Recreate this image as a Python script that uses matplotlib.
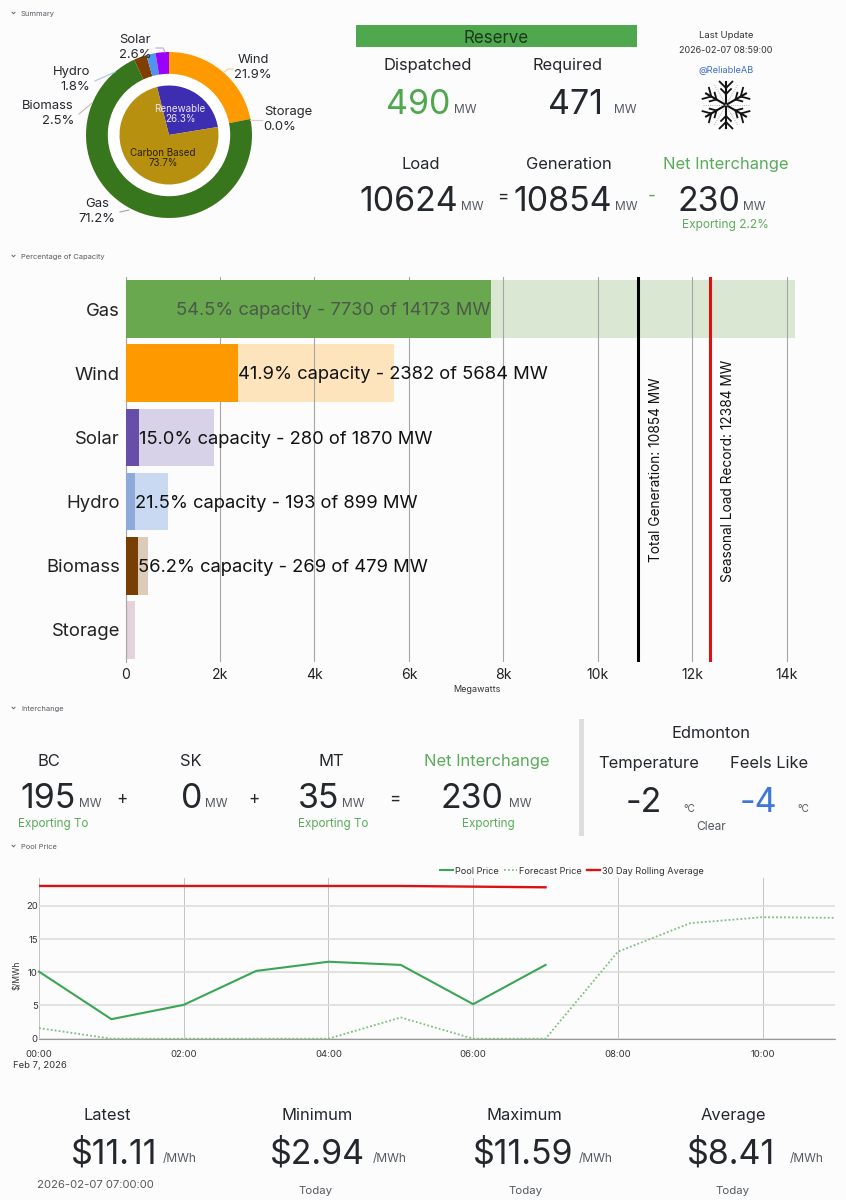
import matplotlib
matplotlib.use('Agg')
import matplotlib.pyplot as plt
import numpy as np

# Values
mix_names = ['Wind', 'Storage', 'Gas', 'Biomass', 'Hydro', 'Solar']
mix_pct = [21.9, 0.0, 71.2, 2.5, 1.8, 2.6]
mix_colors = ['#ff9900', '#e6b8c8', '#38761d', '#7f3f00', '#5094ee', '#9900ff']
group_names = ['Renewable', 'Carbon Based']
group_pct = [26.3, 73.7]
group_colors = ['#3d2db0', '#b8900f']

sources = ['Gas', 'Wind', 'Solar', 'Hydro', 'Biomass', 'Storage']
generation = [7730, 2382, 280, 193, 269, 0]
capacity = [14173, 5684, 1870, 899, 479, 200]
cap_pct = [54.5, 41.9, 15.0, 21.5, 56.2, None]
gen_colors = ['#6aa84f', '#ff9900', '#674ea7', '#8eaadb', '#783f04', '#d5a6bd']
cap_colors = ['#d9e7d3', '#fde4bc', '#d8d2e8', '#c9d9f2', '#dccbb9', '#e3d3dc']
total_generation = 10854
seasonal_record = 12384
mw_ticks = [0, 2000, 4000, 6000, 8000, 10000, 12000, 14000]
mw_tick_labels = ['0', '2k', '4k', '6k', '8k', '10k', '12k', '14k']

hours = [0, 1, 2, 3, 4, 5, 6, 7]
pool_price = [10.1, 2.94, 5.1, 10.2, 11.59, 11.11, 5.2, 11.11]
rolling_avg = [23.0, 23.0, 23.0, 23.0, 23.0, 23.0, 22.9, 22.8]
forecast_hours = [0, 1, 2, 3, 4, 5, 6, 7, 8, 9, 10, 11]
forecast_price = [1.6, 0, 0, 0, 0, 3.2, 0, 0, 13.1, 17.4, 18.3, 18.2]
hour_ticks = [0, 2, 4, 6, 8, 10]
hour_labels = ['00:00', '02:00', '04:00', '06:00', '08:00', '10:00']
price_ticks = [0, 5, 10, 15, 20]

W, H = 846, 1200
BG = '#fcfcfc'
DARK = '#24272c'
GREEN = '#5aab5a'
GRAY = '#555a60'

plt.rcParams['font.family'] = ['Inter', 'DejaVu Sans']
fig = plt.figure(figsize=(W / 100, H / 100), dpi=100, facecolor=BG)


def px_axes(left, top, right, bottom):
    return fig.add_axes([left / W, 1 - bottom / H, (right - left) / W, (bottom - top) / H])


def pt(size_px):
    return size_px * 0.72


# overlay in pixel coordinates for the stat panels
ov = fig.add_axes([0, 0, 1, 1], zorder=10)
ov.set_xlim(0, W)
ov.set_ylim(H, 0)
ov.axis('off')
ov.patch.set_alpha(0)


def put(x, y, s, size=16.5, color=DARK, ha='center', **kw):
    if 'rotation' in kw:
        x += 2
    else:
        y += 1.2 + 0.08 * size
    ov.text(x, y, s, fontsize=pt(size), color=color, ha=ha, va='center', **kw)


def stat(x0, x1, y, s, unit_x, color=DARK, unit='MW', size=34):
    put((x0 + x1) / 2, y, s, size=size, color=color)
    put(unit_x, y + 7, unit, size=12, color=GRAY)


# section headers
for y, name in [(13, 'Summary'), (256, 'Percentage of Capacity'), (708, 'Interchange'), (846, 'Pool Price')]:
    ov.plot([12, 13.5, 15], [y - 0.8, y + 0.8, y - 0.8], color='#666666', lw=0.7)
    put(21, y - 1, name, size=7.5, color=GRAY, ha='left')

# donut + inner pie
ax_pie = px_axes(169 - 83, 135 - 83, 169 + 83, 135 + 83)
ax_pie.pie(mix_pct, colors=mix_colors, startangle=90, counterclock=False, radius=1,
           wedgeprops=dict(width=22.5 / 83))
ax_pie.add_patch(plt.Circle((0, 0), 60.5 / 83, color='white', zorder=1))
ax_pie.pie(group_pct, colors=group_colors, startangle=104, counterclock=False, radius=49.5 / 83,
           wedgeprops=dict(zorder=2))
ax_pie.set_xlim(-1, 1)
ax_pie.set_ylim(-1, 1)

mix_label_pos = [(253, 58, 253, 73), (288, 110, 280, 125), (97, 202, 97, 217),
                 (48, 104, 58, 119), (72, 70, 75, 85), (135, 38, 135, 53)]
for name, pct, (x1, y1, x2, y2) in zip(mix_names, mix_pct, mix_label_pos):
    put(x1, y1, name, size=13)
    put(x2, y2, f'{pct:.1f}%', size=13)
put(180, 107, group_names[0], size=9.8, color='#e8e4ff')
put(180, 117, f'{group_pct[0]}%', size=9.8, color='#e8e4ff')
put(163, 151, group_names[1], size=9.8, color='#2b2000')
put(163, 161, f'{group_pct[1]}%', size=9.8, color='#2b2000')

# leader lines
for xs, ys, c in [([224, 228, 233], [72, 69, 69], '#f9cb9c'),
                  ([250, 262], [120, 120], '#e6c8d0'),
                  ([120, 129], [212, 210], '#9aa89a'),
                  ([79, 92], [114, 103], '#c9b8a8'),
                  ([95, 115], [81, 72], '#a9c4f0'),
                  ([156, 163, 165], [48, 48, 52], '#c79cf5')]:
    ov.plot(xs, ys, color=c, lw=0.8)

# reserve panel
ov.fill_between([356, 637], 25, 47, color='#4fa84d', lw=0)
put(496, 36, 'Reserve', size=17, color='#1c3a1c')
put(428, 63, 'Dispatched')
put(568, 63, 'Required')
stat(387, 449, 101, '490', 465, color='#4fa84d')
stat(548, 603, 101, '471', 625)
put(726, 34, 'Last Update', size=9.5, color='#333333')
put(726, 49, '2026-02-07 08:59:00', size=9, color='#333333')
put(726, 69, '@ReliableAB', size=9.2, color='#3d70c8')

# snowflake icon
for a in np.deg2rad(np.arange(0, 360, 60) + 90):
    ux, uy = np.cos(a), -np.sin(a)
    ov.plot([726, 726 + 23 * ux], [105, 105 + 23 * uy], color='#111111', lw=1.5)
    for r, b in [(17, 9), (11, 7)]:
        for side in (-1, 1):
            ba = a + side * np.deg2rad(45)
            ov.plot([726 + r * ux, 726 + r * ux + b * np.cos(ba)],
                    [105 + r * uy, 105 + r * uy - b * np.sin(ba)], color='#111111', lw=1.3)
for a in np.deg2rad(np.arange(0, 360, 60)):
    ov.plot([726, 726 + 23 * np.cos(a)], [105, 105 - 23 * np.sin(a)], color='#999999', lw=0.6, ls=':')

put(421, 162, 'Load')
put(569, 162, 'Generation')
put(726, 162, 'Net Interchange', color=GREEN)
stat(360, 457, 198, '10624', 472)
put(503, 195, '=', size=17)
stat(515, 611, 198, '10854', 626)
put(652, 194, '-', size=17, color=GREEN)
stat(679, 739, 198, '230', 754)
put(725, 223, 'Exporting 2.2%', size=12, color=GREEN)

# capacity bars
ax_cap = px_axes(125.5, 277, 795, 662)
ax_cap.set_facecolor('none')
rows = list(range(len(sources)))
ax_cap.barh(rows, capacity, height=0.9, color=cap_colors, zorder=1)
ax_cap.barh(rows, generation, height=0.9, color=gen_colors, zorder=3)
ax_cap.set_ylim(5.5, -0.5)
ax_cap.set_xlim(0, 14173)
ax_cap.set_xticks(mw_ticks, mw_tick_labels, fontsize=pt(14), color='#222222')
ax_cap.set_yticks(rows, sources, fontsize=pt(18.5), color='#222222')
ax_cap.tick_params(axis='both', length=0, pad=4)
ax_cap.grid(axis='x', color='#a6a6a6', lw=0.8, zorder=2)
ax_cap.set_axisbelow(False)
for s in ['top', 'right', 'bottom']:
    ax_cap.spines[s].set_visible(False)
ax_cap.spines['left'].set_color('#a6a6a6')
for i, (g, c, p) in enumerate(zip(generation, capacity, cap_pct)):
    if p is None:
        continue
    txt = f'{p:.1f}% capacity - {g} of {c} MW'
    if i == 0:
        ax_cap.text(g, i + 0.025, txt, ha='right', va='center', fontsize=pt(18.4), color='#4a5a48', zorder=5)
    else:
        ax_cap.text(g, i + 0.025, txt, ha='left', va='center', fontsize=pt(18.4), color='#111111', zorder=5)
ax_cap.axvline(total_generation, color='black', lw=2.2, zorder=6)
ax_cap.axvline(seasonal_record, color='#dd1111', lw=2.2, zorder=6)
put(654, 470, f'Total Generation: {total_generation} MW', size=13.7, color='#111111', rotation=90)
put(726, 471, f'Seasonal Load Record: {seasonal_record} MW', size=13.7, color='#111111', rotation=90)
put(477, 688, 'Megawatts', size=9, color='#333333')

# interchange panel
put(49, 759, 'BC')
put(191, 759, 'SK')
put(331, 759, 'MT')
put(487, 759, 'Net Interchange', color=GREEN)
stat(20, 76, 795, '195', 90)
put(122, 797, '+', size=17)
stat(181, 202, 795, '0', 216)
put(254, 797, '+', size=17)
stat(300, 338, 795, '35', 353)
put(395, 797, '=', size=17)
stat(441, 503, 795, '230', 520)
put(53, 822, 'Exporting To', size=11.7, color=GREEN)
put(333, 822, 'Exporting To', size=11.7, color=GREEN)
put(488, 822, 'Exporting', size=11.7, color=GREEN)
ov.fill_between([579, 584], 719, 836, color='#dddddd', lw=0)
put(711, 731, 'Edmonton')
put(649, 761, 'Temperature')
put(769, 761, 'Feels Like')
put(644, 799, '-2', size=34)
put(689, 807, '\u00b0C', size=10, color=GRAY)
put(758, 799, '-4', size=34, color='#3d78d8')
put(803, 807, '\u00b0C', size=10, color=GRAY)
put(711, 825, 'Clear', size=12, color=GRAY)

# pool price chart
ax_price = px_axes(39, 878, 835, 1038.7)
ax_price.set_facecolor('none')
ax_price.plot(hours, pool_price, color='#3aa655', lw=1.5, label='Pool Price', clip_on=False, zorder=4)
ax_price.plot(forecast_hours, forecast_price, color='#7fbf7f', lw=1.3, ls=(0, (1, 1.2)),
              label='Forecast Price', clip_on=False, zorder=4)
ax_price.plot(hours, rolling_avg, color='#dd1111', lw=1.7, label='30 Day Rolling Average', zorder=4)
ax_price.set_xlim(0, 11)
ax_price.set_ylim(0, 24.2)
ax_price.set_xticks(hour_ticks, hour_labels, fontsize=pt(9.5), color='#333333')
ax_price.set_yticks(price_ticks, [str(v) for v in price_ticks], fontsize=pt(9.5), color='#333333')
ax_price.tick_params(axis='x', length=0, pad=8)
ax_price.tick_params(axis='y', length=0, pad=1)
ax_price.grid(axis='y', color='#dddddd', lw=1.2)
ax_price.grid(axis='x', color='#c4c4c4', lw=0.7)
ax_price.set_axisbelow(True)
for s in ['top', 'right', 'left']:
    ax_price.spines[s].set_visible(False)
ax_price.spines['bottom'].set_color('#999999')
fig.legend(*ax_price.get_legend_handles_labels(), loc='center', bbox_to_anchor=(572 / W, 1 - 871 / H),
           ncol=3, frameon=False, fontsize=pt(9.2), handlelength=1.4, handletextpad=0.3,
           columnspacing=0.5, labelcolor='#333333')
put(15, 975, '$/MWh', size=8.5, color='#333333', rotation=90)
put(13, 1064, 'Feb 7, 2026', size=9.5, color='#333333', ha='left')

# price stats
put(107, 1113, 'Latest')
put(317, 1113, 'Minimum')
put(524, 1113, 'Maximum')
put(733, 1113, 'Average')
stat(72, 157, 1150, '$11.11', 180, unit='/MWh')
stat(270, 365, 1150, '$2.94', 390, unit='/MWh')
stat(473, 574, 1150, '$11.59', 596, unit='/MWh')
stat(680, 783, 1150, '$8.41', 807, unit='/MWh')
put(95, 1183, '2026-02-07 07:00:00', size=11.3, color=GRAY)
put(316, 1189, 'Today', size=11.5, color=GRAY)
put(526, 1189, 'Today', size=11.5, color=GRAY)
put(733, 1189, 'Today', size=11.5, color=GRAY)

fig.savefig('out.png', dpi=100, facecolor=BG)
